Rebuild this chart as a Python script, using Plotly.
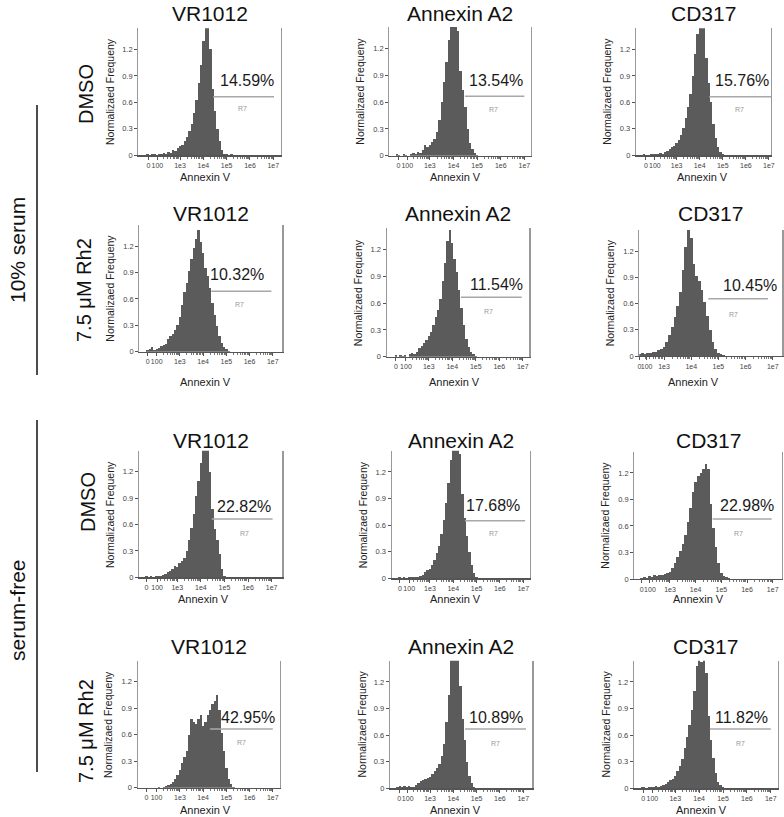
import numpy as np
import plotly.graph_objects as go

# ---------------- data ----------------
BINS = [1.6, 1.7, 1.8, 1.9, 2.0, 2.1, 2.2, 2.3, 2.4, 2.5,
        2.6, 2.7, 2.8, 2.9, 3.0, 3.1, 3.2, 3.3, 3.4, 3.5,
        3.6, 3.7, 3.8, 3.9, 4.0, 4.1, 4.2, 4.3, 4.4, 4.5,
        4.6, 4.7, 4.8, 4.9, 5.0, 5.1, 5.2, 5.3, 5.4, 5.5]

ROW_LABELS = ["DMSO", "7.5 μM Rh2", "DMSO", "7.5 μM Rh2"]
COL_LABELS = ["VR1012", "Annexin A2", "CD317"]
GROUP_LABELS = ["10% serum", "serum-free"]
X_TICK_TEXT = ["0", "100", "1e3", "1e4", "1e5", "1e6", "1e7"]
Y_TICK_VALS = [0, 0.3, 0.6, 0.9, 1.2]
Y_TICK_TEXT = ["0", "0.3", "0.6", "0.9", "1.2"]

PERCENTS = [["14.59%", "13.54%", "15.76%"],
            ["10.32%", "11.54%", "10.45%"],
            ["22.82%", "17.68%", "22.98%"],
            ["42.95%", "10.89%", "11.82%"]]

GATE_LO = [[4.42, 4.48, 4.41], [4.35, 4.37, 4.63], [4.46, 4.50, 4.66], [4.29, 4.50, 4.45]]
GATE_HI = [[7.03, 7.00, 7.09], [6.94, 6.96, 6.82], [7.04, 7.08, 6.96], [7.00, 7.12, 7.00]]
GATE_Y = [[0.664, 0.666, 0.663], [0.686, 0.668, 0.653], [0.662, 0.649, 0.678], [0.665, 0.668, 0.668]]

H_R1C1 = [0.02, 0.00, 0.01, 0.02, 0.00, 0.02, 0.01, 0.03, 0.02, 0.04,
          0.03, 0.06, 0.05, 0.08, 0.10, 0.12, 0.16, 0.21, 0.27, 0.36,
          0.48, 0.63, 0.82, 1.02, 1.30, 1.50, 1.50, 1.20, 0.75, 0.50,
          0.30, 0.16, 0.06, 0.02, 0.01, 0.00, 0.01, 0.00, 0.00, 0.00]
H_R1C2 = [0.02, 0.01, 0.00, 0.02, 0.01, 0.00, 0.02, 0.03, 0.02, 0.04,
          0.03, 0.06, 0.12, 0.10, 0.12, 0.15, 0.19, 0.27, 0.40, 0.60,
          0.82, 1.05, 1.30, 1.50, 1.50, 1.50, 1.40, 0.95, 0.74, 0.55,
          0.30, 0.14, 0.07, 0.03, 0.01, 0.00, 0.00, 0.00, 0.00, 0.00]
H_R1C3 = [0.01, 0.00, 0.00, 0.02, 0.01, 0.02, 0.02, 0.03, 0.02, 0.04,
          0.05, 0.07, 0.09, 0.10, 0.14, 0.17, 0.23, 0.31, 0.42, 0.55,
          0.70, 0.90, 1.15, 1.38, 1.50, 1.50, 1.50, 1.10, 0.82, 0.60,
          0.36, 0.20, 0.09, 0.04, 0.02, 0.00, 0.00, 0.00, 0.00, 0.00]
H_R2C1 = [0.02, 0.03, 0.05, 0.02, 0.03, 0.04, 0.06, 0.08, 0.09, 0.15,
          0.18, 0.20, 0.25, 0.30, 0.39, 0.53, 0.68, 0.78, 0.92, 1.05,
          1.18, 1.28, 1.38, 1.25, 1.12, 0.95, 0.86, 0.72, 0.55, 0.42,
          0.29, 0.18, 0.10, 0.05, 0.03, 0.01, 0.00, 0.00, 0.00, 0.00]
H_R2C2 = [0.02, 0.00, 0.02, 0.01, 0.02, 0.00, 0.03, 0.04, 0.03, 0.05,
          0.10, 0.12, 0.15, 0.19, 0.23, 0.28, 0.35, 0.45, 0.52, 0.65,
          0.85, 1.05, 1.30, 1.42, 1.28, 1.10, 0.95, 0.75, 0.55, 0.36,
          0.20, 0.11, 0.05, 0.03, 0.01, 0.00, 0.00, 0.00, 0.00, 0.00]
H_R2C3 = [0.00, 0.00, 0.00, 0.00, 0.01, 0.02, 0.03, 0.02, 0.04, 0.03,
          0.05, 0.05, 0.07, 0.08, 0.10, 0.16, 0.24, 0.33, 0.45, 0.57,
          0.73, 0.98, 1.25, 1.45, 1.35, 1.05, 0.92, 0.86, 0.76, 0.62,
          0.46, 0.30, 0.16, 0.08, 0.04, 0.02, 0.01, 0.00, 0.00, 0.00]
H_R3C1 = [0.00, 0.01, 0.00, 0.01, 0.00, 0.01, 0.02, 0.02, 0.03, 0.04,
          0.06, 0.07, 0.10, 0.13, 0.12, 0.16, 0.18, 0.22, 0.30, 0.42,
          0.56, 0.72, 0.92, 1.10, 1.30, 1.50, 1.50, 1.50, 1.20, 0.78,
          0.55, 0.42, 0.26, 0.10, 0.02, 0.00, 0.00, 0.00, 0.00, 0.00]
H_R3C2 = [0.00, 0.01, 0.00, 0.01, 0.00, 0.01, 0.02, 0.01, 0.02, 0.02,
          0.03, 0.04, 0.07, 0.09, 0.11, 0.15, 0.21, 0.28, 0.37, 0.50,
          0.66, 0.85, 1.08, 1.34, 1.50, 1.50, 1.50, 1.40, 0.95, 0.68,
          0.48, 0.30, 0.15, 0.06, 0.02, 0.00, 0.00, 0.00, 0.00, 0.00]
H_R3C3 = [0.00, 0.00, 0.00, 0.01, 0.02, 0.01, 0.03, 0.02, 0.04, 0.03,
          0.05, 0.05, 0.06, 0.07, 0.08, 0.12, 0.18, 0.25, 0.32, 0.40,
          0.50, 0.65, 0.80, 0.98, 1.10, 1.16, 1.20, 1.24, 1.30, 1.25,
          0.85, 0.58, 0.36, 0.18, 0.07, 0.03, 0.02, 0.01, 0.00, 0.00]
H_R4C1 = [0.00, 0.00, 0.00, 0.00, 0.00, 0.01, 0.00, 0.01, 0.02, 0.03,
          0.04, 0.06, 0.10, 0.14, 0.20, 0.28, 0.35, 0.42, 0.60, 0.78,
          0.75, 0.72, 0.78, 0.82, 0.70, 0.75, 0.82, 0.88, 0.95, 0.98,
          1.05, 0.88, 0.62, 0.42, 0.22, 0.10, 0.04, 0.01, 0.00, 0.00]
H_R4C2 = [0.02, 0.03, 0.02, 0.03, 0.02, 0.03, 0.01, 0.02, 0.04, 0.06,
          0.08, 0.09, 0.10, 0.12, 0.13, 0.16, 0.19, 0.23, 0.27, 0.36,
          0.50, 0.75, 1.05, 1.50, 1.50, 1.50, 1.45, 1.15, 0.78, 0.55,
          0.30, 0.14, 0.06, 0.02, 0.00, 0.00, 0.00, 0.00, 0.00, 0.00]
H_R4C3 = [0.01, 0.02, 0.00, 0.02, 0.01, 0.02, 0.03, 0.02, 0.03, 0.04,
          0.05, 0.07, 0.09, 0.11, 0.14, 0.19, 0.25, 0.33, 0.45, 0.58,
          0.72, 0.88, 1.10, 1.38, 1.50, 1.42, 1.50, 1.30, 0.82, 0.55,
          0.34, 0.17, 0.07, 0.04, 0.01, 0.00, 0.00, 0.00, 0.00, 0.00]

HIST = [[H_R1C1, H_R1C2, H_R1C3],
        [H_R2C1, H_R2C2, H_R2C3],
        [H_R3C1, H_R3C2, H_R3C3],
        [H_R4C1, H_R4C2, H_R4C3]]

# ---------------- geometry (pixels in the reference picture) ----------------
W, H = 784, 817
# left, right, top, bottom (px), xmin, xmax, pos of "0", pos of "100"
GEOM = [
    [(138.3, 281.0, 28.3, 155.3, 1.21, 7.33, 1.65, 2.03),
     (389.3, 531.0, 27.0, 155.7, 1.28, 7.28, 1.67, 2.04),
     (636.0, 771.0, 28.3, 155.3, 1.24, 7.09, 1.67, 2.06)],
    [(139.3, 282.3, 225.0, 351.7, 1.25, 7.41, 1.61, 2.00),
     (386.7, 529.3, 228.3, 356.7, 1.21, 7.28, 1.60, 2.03),
     (639.3, 782.3, 230.0, 356.0, 2.09, 7.35, 2.10, 2.36)],
    [(139.0, 282.3, 450.7, 577.3, 1.38, 7.45, 1.70, 2.15),
     (391.7, 530.0, 450.7, 578.3, 1.36, 7.29, 1.71, 2.11),
     (634.3, 781.7, 451.7, 579.0, 1.61, 7.35, 1.90, 2.22)],
    [(137.7, 280.0, 660.7, 787.7, 1.18, 7.31, 1.56, 1.99),
     (390.0, 532.3, 660.7, 788.3, 1.28, 7.39, 1.67, 2.04),
     (634.0, 777.7, 660.7, 788.3, 1.27, 7.29, 1.66, 2.04)],
]
PCT_POS = [[(7.13, .853), (7.03, .843), (7.08, .845)],
           [(6.71, .88), (7.09, .81), (7.24, .81)],
           [(7.04, .80), (6.93, .82), (7.11, .83)],
           [(7.17, .80), (7.08, .80), (6.96, .80)]]
R7_POS = [[(5.70, .53), (5.68, .515), (5.72, .52)],
          [(5.56, .54), (5.56, .51), (5.57, .48)],
          [(5.83, .50), (5.72, .51), (5.67, .52)],
          [(5.66, .51), (5.82, .51), (5.72, .51)]]
TITLE_Y = [13, 213, 440, 646]
XTITLE_Y = [176.5, 382, 599, 810]
ROWLABEL_POS = [(86, 94), (84, 290), (88, 502), (86, 731)]

FONT = "Liberation Sans, Arial, sans-serif"
BAR = "#5b5b5b"
MINOR = [float(np.log10(k) + d) for d in range(2, 7) for k in range(2, 10)]


def fx(p):
    return p / W


def fy(p):
    return 1 - p / H


fig = go.Figure()
layout = {}
ann = []
shapes = []
n = 0
for r in range(4):
    for c in range(3):
        n += 1
        L, R, T, B, xmin, xmax, z0, z100 = GEOM[r][c]
        sfx = "" if n == 1 else str(n)
        xa, ya = "x" + sfx, "y" + sfx
        fig.add_trace(go.Bar(x=BINS, y=HIST[r][c], width=0.1,
                             marker=dict(color=BAR, line=dict(width=0)),
                             xaxis=xa, yaxis=ya, showlegend=False, hoverinfo="skip"))
        layout["xaxis" + sfx] = dict(
            domain=[fx(L), fx(R)], range=[xmin, xmax], anchor=ya,
            tickmode="array", tickvals=[z0, z100, 3, 4, 5, 6, 7], ticktext=X_TICK_TEXT,
            tickangle=0,
            ticks="outside", ticklen=3, tickcolor="#555", tickwidth=1,
            minor=dict(tickmode="array", tickvals=MINOR, ticks="outside", ticklen=2, tickcolor="#777"),
            showline=True, linecolor="#555", linewidth=1.2, showgrid=False, zeroline=False,
            tickfont=dict(family=FONT, size=7, color="#444"), automargin=False, fixedrange=True)
        layout["yaxis" + sfx] = dict(
            domain=[fy(B), fy(T)], range=[0, 1.44], anchor=xa,
            tickmode="array", tickvals=Y_TICK_VALS, ticktext=Y_TICK_TEXT,
            ticks="outside", ticklen=3, tickcolor="#555",
            showline=True, mirror=True, linecolor="#999", linewidth=1.2,
            showgrid=False, zeroline=False,
            tickfont=dict(family=FONT, size=7.5, color="#444"), automargin=False, fixedrange=True)
        # gate line
        shapes.append(dict(type="line", xref=xa, yref=ya,
                           x0=GATE_LO[r][c], x1=GATE_HI[r][c], y0=GATE_Y[r][c], y1=GATE_Y[r][c],
                           line=dict(color="#a8a8a8", width=1.5)))
        px_, py_ = PCT_POS[r][c]
        ann.append(dict(text=PERCENTS[r][c], xref=xa, yref=ya, x=px_, y=py_,
                        xanchor="right", yanchor="middle", showarrow=False,
                        font=dict(family=FONT, size=16, color="#1a1a1a")))
        rx, ry = R7_POS[r][c]
        ann.append(dict(text="R7", xref=xa, yref=ya, x=rx, y=ry, showarrow=False,
                        xanchor="center", yanchor="middle",
                        font=dict(family=FONT, size=7, color="#999")))
        # panel title
        ann.append(dict(text=COL_LABELS[c], xref="paper", yref="paper",
                        x=fx((L + R) / 2), y=fy(TITLE_Y[r]), showarrow=False,
                        xanchor="center", yanchor="middle",
                        font=dict(family=FONT, size=21, color="#111")))
        # y axis title
        ann.append(dict(text="Normalizaed Frequeny", xref="paper", yref="paper",
                        x=fx(L - 29), y=fy((T + B) / 2), textangle=-90, showarrow=False,
                        xanchor="center", yanchor="middle",
                        font=dict(family=FONT, size=10.5, color="#222")))
        # x axis title
        ann.append(dict(text="Annexin V", xref=xa, yref="paper",
                        x=4.1, y=fy(XTITLE_Y[r]), showarrow=False,
                        xanchor="center", yanchor="middle",
                        font=dict(family=FONT, size=11, color="#222")))

for r in range(4):
    x_, y_ = ROWLABEL_POS[r]
    ann.append(dict(text=ROW_LABELS[r], xref="paper", yref="paper", x=fx(x_), y=fy(y_),
                    textangle=-90, showarrow=False, xanchor="center", yanchor="middle",
                    font=dict(family=FONT, size=20, color="#111")))

ann.append(dict(text=GROUP_LABELS[0], xref="paper", yref="paper", x=fx(17), y=fy(250),
                textangle=-90, showarrow=False, xanchor="center", yanchor="middle",
                font=dict(family=FONT, size=21, color="#111")))
ann.append(dict(text=GROUP_LABELS[1], xref="paper", yref="paper", x=fx(17), y=fy(610),
                textangle=-90, showarrow=False, xanchor="center", yanchor="middle",
                font=dict(family=FONT, size=21, color="#111")))
shapes.append(dict(type="line", xref="paper", yref="paper", x0=fx(37), x1=fx(37),
                   y0=fy(105), y1=fy(375), line=dict(color="#111", width=1.5)))
shapes.append(dict(type="line", xref="paper", yref="paper", x0=fx(37), x1=fx(37),
                   y0=fy(420), y1=fy(772), line=dict(color="#111", width=1.5)))

fig.update_layout(**layout)
fig.update_layout(width=W, height=H, margin=dict(l=0, r=0, t=0, b=0),
                  paper_bgcolor="white", plot_bgcolor="white",
                  bargap=0, barmode="overlay", showlegend=False,
                  annotations=ann, shapes=shapes, font=dict(family=FONT))
fig.write_html("out.html", config={"displayModeBar": False, "staticPlot": True},
               post_script="document.body.style.margin='0px';")
